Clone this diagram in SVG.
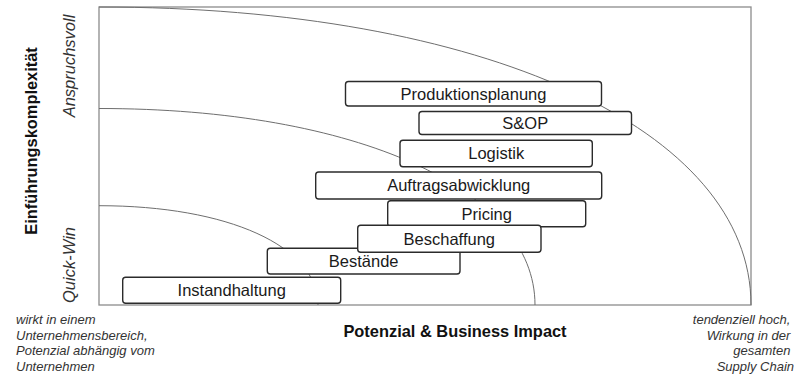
<svg xmlns="http://www.w3.org/2000/svg" width="807" height="375" viewBox="0 0 807 375">
  <style>
    .frame { fill: none; stroke: #8c8c8c; stroke-width: 1.3; }
    .arc { fill: none; stroke: #6e6e6e; stroke-width: 1; }
    .box rect { fill: #ffffff; stroke: #2b2b2b; stroke-width: 1.4; }
    .box text { font-family: "Liberation Sans", Arial, sans-serif; font-size: 16.5px; fill: #1a1a1a; text-anchor: middle; }
    .axis { font-family: "Liberation Sans", Arial, sans-serif; font-size: 16.4px; font-weight: bold; fill: #111111; text-anchor: middle; }
    .scale { font-family: "Liberation Sans", Arial, sans-serif; font-size: 16.5px; font-style: italic; fill: #333333; text-anchor: middle; }
    .note { font-family: "Liberation Sans", Arial, sans-serif; font-size: 13px; font-style: italic; fill: #333333; }
  </style>

  <!-- plot area -->
  <rect class="frame" x="99" y="7" width="652" height="298"/>

  <!-- impact / complexity bands -->
  <g id="bands">
    <path class="arc" d="M99,7 C483.7,7 751,129.2 751,305"/>
    <path class="arc" d="M99,108.5 C356.2,108.5 535,189.1 535,305"/>
    <path class="arc" d="M99,205.7 C228.2,205.7 318,246.4 318,305"/>
  </g>

  <!-- axis titles -->
  <text class="axis" transform="translate(36.5,141) rotate(-90)">Einführungskomplexität</text>
  <text class="axis" x="455" y="336.5">Potenzial &amp; Business Impact</text>
  <text class="scale" transform="translate(75,66) rotate(-90)">Anspruchsvoll</text>
  <text class="scale" transform="translate(75,265) rotate(-90)">Quick-Win</text>

  <!-- axis end notes -->
  <text class="note" x="16" y="324">
    <tspan x="16" y="324">wirkt in einem</tspan>
    <tspan x="16" y="339.5">Unternehmensbereich,</tspan>
    <tspan x="16" y="355">Potenzial abhängig vom</tspan>
    <tspan x="16" y="370.5">Unternehmen</tspan>
  </text>
  <text class="note" text-anchor="end" x="794" y="324">
    <tspan x="794" y="324">tendenziell hoch,</tspan>
    <tspan x="794" y="339.5">Wirkung in der</tspan>
    <tspan x="794" y="355">gesamten</tspan>
    <tspan x="794" y="370.5">Supply Chain</tspan>
  </text>

  <!-- application areas -->
  <g id="produktionsplanung" class="box">
    <rect x="345.5" y="81.5" width="256" height="24.5" rx="3"/>
    <text x="473.5" y="99.7">Produktionsplanung</text>
  </g>
  <g id="sop" class="box">
    <rect x="419" y="111.5" width="212.5" height="23" rx="3"/>
    <text x="525.3" y="129">S&amp;OP</text>
  </g>
  <g id="logistik" class="box">
    <rect x="400" y="140.3" width="192.3" height="26.4" rx="3"/>
    <text x="496.2" y="159.3">Logistik</text>
  </g>
  <g id="auftragsabwicklung" class="box">
    <rect x="315.7" y="172" width="286" height="27" rx="3"/>
    <text x="458.7" y="191.3">Auftragsabwicklung</text>
  </g>
  <g id="pricing" class="box">
    <rect x="387.7" y="200.7" width="198" height="26" rx="3"/>
    <text x="486.7" y="219.5">Pricing</text>
  </g>
  <g id="bestaende" class="box">
    <rect x="267.3" y="248.3" width="192.7" height="25.7" rx="3"/>
    <text x="363.7" y="267">Bestände</text>
  </g>
  <g id="beschaffung" class="box">
    <rect x="357.7" y="225.3" width="183.3" height="27" rx="3"/>
    <text x="449.3" y="244.6">Beschaffung</text>
  </g>
  <g id="instandhaltung" class="box">
    <rect x="122.7" y="277.3" width="218" height="26" rx="3"/>
    <text x="231.7" y="296.1">Instandhaltung</text>
  </g>
</svg>
